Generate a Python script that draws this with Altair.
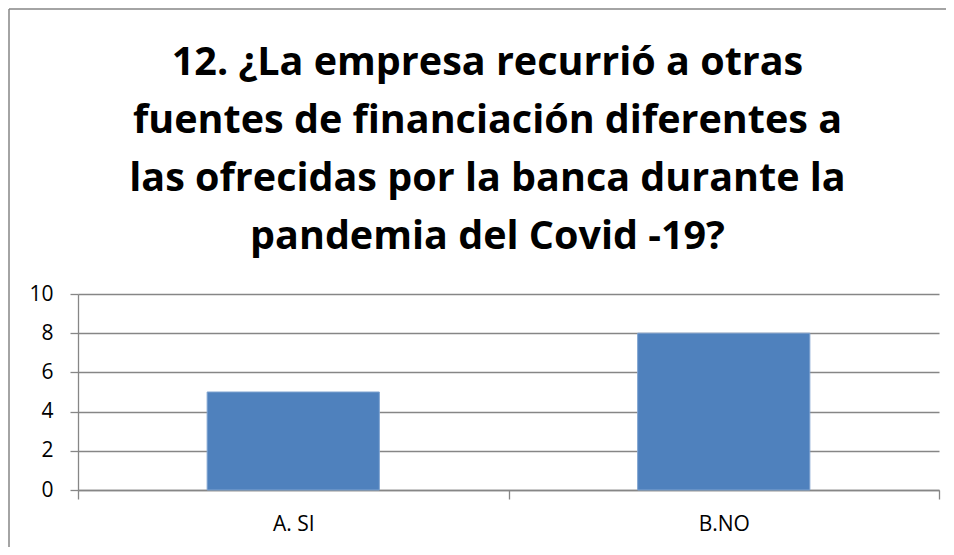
import altair as alt
import pandas as pd

categories = ["A. SI", "B.NO"]
values = [5, 8]
y_ticks = [0, 2, 4, 6, 8, 10]
title_lines = [
    "12. ¿La empresa recurrió a otras",
    "fuentes de financiación diferentes a",
    "las ofrecidas por la banca durante la",
    "pandemia del Covid -19?",
]

df = pd.DataFrame({"cat": categories, "val": values})
GRAY = "#868686"
FONT = "Open Sans"

bars = alt.Chart(df).mark_bar(
    color="#4F81BD", stroke="#7fa3d0", strokeWidth=1, width=alt.RelativeBandSize(0.4)
).encode(
    x=alt.X(
        "cat:N",
        sort=categories,
        scale=alt.Scale(paddingInner=0, paddingOuter=0),
        axis=alt.Axis(
            title=None, labelAngle=0, tickBand="extent", tickSize=9, tickWidth=1.3,
            tickColor=GRAY, domainColor=GRAY, domainWidth=1.3, grid=False,
            labelFont=FONT, labelFontSize=21, labelColor="black", labelPadding=14,
        ),
    ),
    y=alt.Y(
        "val:Q",
        scale=alt.Scale(domain=[0, 10]),
        axis=alt.Axis(
            values=y_ticks, title=None, tickSize=8, tickWidth=1.3, tickColor=GRAY,
            domainColor=GRAY, domainWidth=1.3, gridColor=GRAY, gridWidth=1.3,
            labelFont=FONT, labelFontSize=21, labelColor="black", labelPadding=17,
        ),
    ),
)

one = pd.DataFrame({"k": [0]})
frame_v = alt.Chart(one).mark_rule(color=GRAY, strokeWidth=1.5).encode(
    x=alt.value(-69), y=alt.value(-285), y2=alt.value(600)
)
frame_h = alt.Chart(one).mark_rule(color=GRAY, strokeWidth=1.5).encode(
    x=alt.value(-69), x2=alt.value(2000), y=alt.value(-285)
)

chart = alt.layer(bars, frame_v, frame_h).properties(
    width=861,
    height=196,
    autosize=alt.AutoSizeParams(type="none"),
    padding={"left": 70, "top": 286, "right": 7, "bottom": 57},
    title=alt.TitleParams(
        text=title_lines, font=FONT, fontSize=39.5, fontWeight="bold", lineHeight=58,
        color="black", anchor="middle", dx=-21, offset=0, dy=249,
    ),
).configure_view(stroke=None)

chart.save("out.html", embed_options={"renderer": "svg", "actions": False})
